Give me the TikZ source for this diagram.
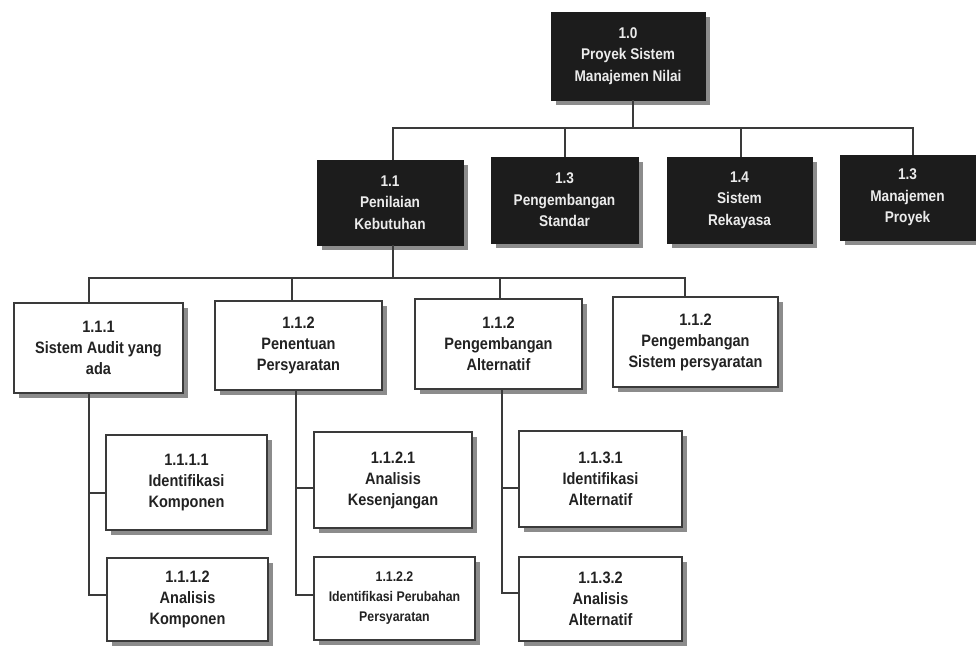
\documentclass[tikz,border=0pt]{standalone}
\usepackage{fontspec}
\setmainfont{Liberation Sans}[FakeStretch=0.88]
\usetikzlibrary{shadows}
\definecolor{boxdark}{HTML}{1C1C1C}
\definecolor{linec}{HTML}{3A3A3A}
\definecolor{shadowc}{HTML}{8C8C8C}
\definecolor{textc}{HTML}{222222}
\begin{document}
\begin{tikzpicture}[x=1pt,y=-1pt,
  box/.style={rectangle, inner sep=0pt, align=center,
    font=\fontsize{16.5}{21}\selectfont\bfseries,
    drop shadow={shadow xshift=5pt,shadow yshift=-5pt,fill=shadowc,opacity=1}},
  darkbox/.style={box, fill=boxdark, draw=boxdark, text=white!92!black,
    font=\fontsize{15.5}{21.5}\selectfont\bfseries},
  lightbox/.style={box, fill=white, draw=linec, line width=1.2pt, text=textc},
  conn/.style={draw=linec, line width=1.4pt}]
\useasboundingbox (0,0) rectangle (976,647);
\fill[white] (0,0) rectangle (976,647);

% level 1
\node[darkbox, minimum width=154pt, minimum height=88pt] (n10) at (628,56) {1.0\\Proyek Sistem\\Manajemen Nilai};

% level 2
\node[darkbox, minimum width=146pt, minimum height=85pt] (n11) at (390,202.5) {1.1\\Penilaian\\Kebutuhan};
\node[darkbox, minimum width=147pt, minimum height=86pt] (n13) at (564.5,200) {1.3\\Pengembangan\\Standar};
\node[darkbox, minimum width=145pt, minimum height=86pt] (n14) at (739.5,200) {1.4\\Sistem\\Rekayasa};
\node[darkbox, minimum width=135pt, minimum height=85pt] (n13b) at (907.5,197.5) {1.3\\Manajemen\\Proyek};

% level 3
\node[lightbox, minimum width=169pt, minimum height=90pt] (n111) at (98.5,348) {1.1.1\\Sistem Audit yang\\ada};
\node[lightbox, minimum width=167pt, minimum height=89pt] (n112) at (298.5,345.5) {1.1.2\\Penentuan\\Persyaratan};
\node[lightbox, minimum width=167pt, minimum height=90pt] (n112b) at (498.5,344) {1.1.2\\Pengembangan\\Alternatif};
\node[lightbox, minimum width=165pt, minimum height=90pt] (n112c) at (695.5,342) {1.1.2\\Pengembangan\\Sistem persyaratan};

% level 4
\node[lightbox, minimum width=161pt, minimum height=95pt] (n1111) at (186.5,482.5) {1.1.1.1\\Identifikasi\\Komponen};
\node[lightbox, minimum width=161pt, minimum height=83pt] (n1112) at (187.5,599.5) {1.1.1.2\\Analisis\\Komponen};
\node[lightbox, minimum width=158pt, minimum height=96pt] (n1121) at (393,480) {1.1.2.1\\Analisis\\Kesenjangan};
\node[lightbox, minimum width=161pt, minimum height=83pt, font=\fontsize{14}{20}\selectfont\bfseries] (n1122) at (394.5,598.5) {1.1.2.2\\Identifikasi Perubahan\\Persyaratan};
\node[lightbox, minimum width=163pt, minimum height=96pt] (n1131) at (600.5,479) {1.1.3.1\\Identifikasi\\Alternatif};
\node[lightbox, minimum width=163pt, minimum height=84pt] (n1132) at (600.5,599) {1.1.3.2\\Analisis\\Alternatif};

% buses
\coordinate (b1) at (0,128);
\coordinate (b2) at (0,278);
\coordinate (t1) at (89,0);
\coordinate (t2) at (296,0);
\coordinate (t3) at (502,0);

% level 1 -> 2
\draw[conn] ([xshift=5pt]n10.south) -- ([xshift=5pt]n10.south |- b1);
\draw[conn] ([xshift=3pt]n11.north) |- ([xshift=5.5pt]n13b.north |- b1) -- ([xshift=5.5pt]n13b.north);
\draw[conn] ([xshift=0.5pt]n13.north) -- ([xshift=0.5pt]n13.north |- b1);
\draw[conn] ([xshift=1.5pt]n14.north) -- ([xshift=1.5pt]n14.north |- b1);

% level 2 -> 3
\draw[conn] ([xshift=3pt]n11.south) -- ([xshift=3pt]n11.south |- b2);
\draw[conn] ([xshift=-9.5pt]n111.north) |- ([xshift=-10.5pt]n112c.north |- b2) -- ([xshift=-10.5pt]n112c.north);
\draw[conn] ([xshift=-6.5pt]n112.north) -- ([xshift=-6.5pt]n112.north |- b2);
\draw[conn] ([xshift=1.5pt]n112b.north) -- ([xshift=1.5pt]n112b.north |- b2);

% level 3 -> 4
\path ([yshift=-10.5pt]n1111.west) coordinate (a1);
\path ([yshift=4.5pt]n1112.west) coordinate (a2);
\draw[conn] ([xshift=-9.5pt]n111.south) |- (a2);
\draw[conn] (a1) -- (a1 -| t1);

\path ([yshift=-8pt]n1121.west) coordinate (c1);
\path ([yshift=3.5pt]n1122.west) coordinate (c2);
\draw[conn] ([xshift=-2.5pt]n112.south) |- (c2);
\draw[conn] (c1) -- (c1 -| t2);

\path ([yshift=-9pt]n1131.west) coordinate (d1);
\path ([yshift=6pt]n1132.west) coordinate (d2);
\draw[conn] ([xshift=3.5pt]n112b.south) |- (d2);
\draw[conn] (d1) -- (d1 -| t3);
\end{tikzpicture}
\end{document}
